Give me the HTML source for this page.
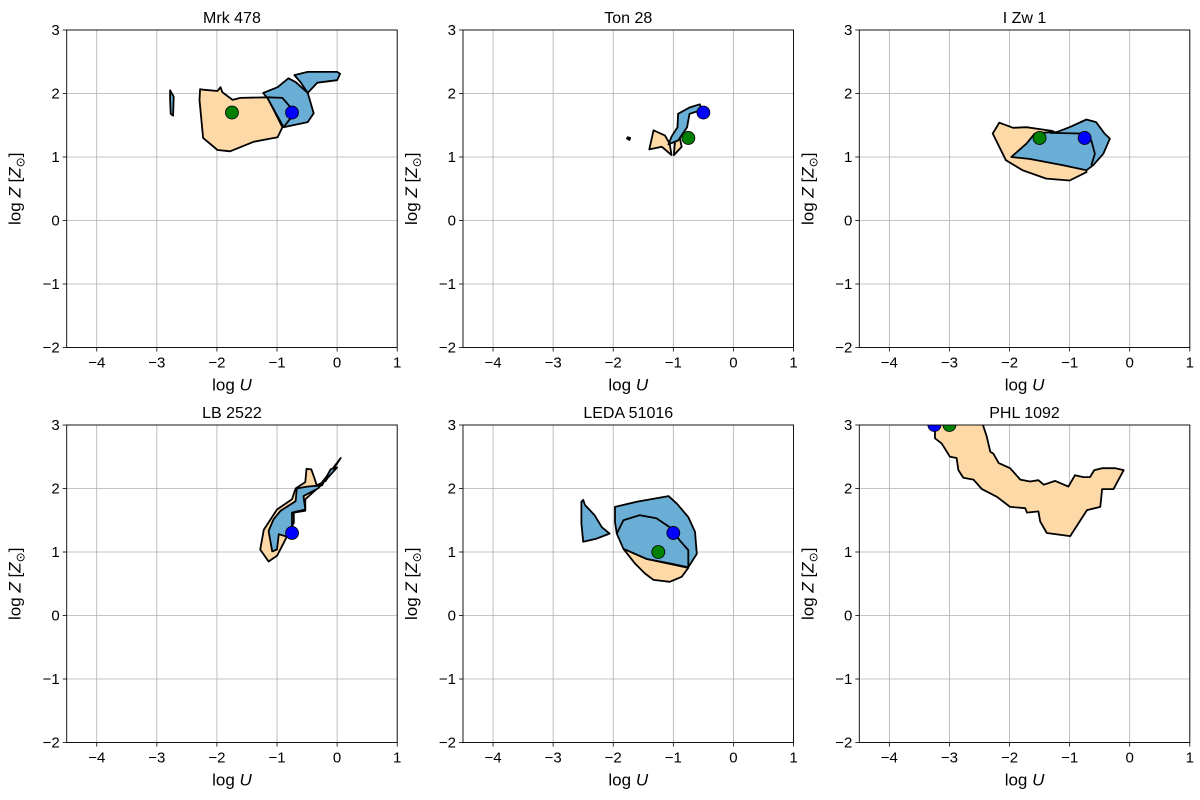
<!DOCTYPE html>
<html><head><meta charset="utf-8"><style>
body{margin:0;background:#fff;}
svg{display:block;font-family:"Liberation Sans","DejaVu Sans",sans-serif;}
</style></head><body>
<svg id="fig" width="1200" height="800" viewBox="0 0 1200 800"></svg>
<script>
const titles = ["Mrk 478","Ton 28","I Zw 1","LB 2522","LEDA 51016","PHL 1092"];
const xTicks = [-4,-3,-2,-1,0,1];
const yTicks = [-2,-1,0,1,2,3];
const tickLabels = {"-4":"−4","-3":"−3","-2":"−2","-1":"−1","0":"0","1":"1","2":"2","3":"3"};
const greenPts = [[-1.75,1.7],[-0.75,1.3],[-1.5,1.3],null,[-1.25,1.0],[-3.0,3.0]];
const bluePts = [[-0.75,1.7],[-0.5,1.7],[-0.75,1.3],[-0.75,1.3],[-1.0,1.3],[-3.25,3.0]];
const orangePolys = [
 [[[-2.28,2.07],[-2.23,2.06],[-1.99,2.04],[-1.94,2.10],[-1.91,2.02],[-1.74,1.90],[-1.61,1.93],[-1.16,1.94],[-0.91,1.47],[-0.99,1.31],[-1.39,1.24],[-1.78,1.09],[-1.99,1.11],[-2.23,1.30],[-2.29,1.90]]],
 [[[-1.33,1.42],[-1.14,1.34],[-1.06,1.21],[-1.03,1.03],[-1.19,1.16],[-1.40,1.12]],[[-0.97,1.26],[-0.89,1.29],[-0.86,1.16],[-0.99,1.03]]],
 [[[-2.28,1.37],[-2.17,1.54],[-1.94,1.46],[-1.72,1.47],[-1.28,1.41],[-0.72,0.89],[-0.72,0.76],[-1.0,0.63],[-1.39,0.66],[-1.78,0.79],[-2.06,0.95]]],
 [[[0.06,2.48],[-0.19,2.12],[-0.34,2.05],[-0.38,2.17],[-0.43,2.30],[-0.51,2.31],[-0.53,2.10],[-0.69,2.0],[-0.75,1.83],[-1.0,1.67],[-1.22,1.35],[-1.28,1.04],[-1.14,0.85],[-1.0,0.94],[-0.89,1.14],[-0.72,1.46],[-0.72,1.62],[-0.53,1.65],[-0.53,1.83],[-0.33,2.0]]],
 [[[-1.83,1.05],[-1.44,0.89],[-0.75,0.75],[-0.86,0.61],[-1.06,0.53],[-1.33,0.56],[-1.47,0.66],[-1.64,0.82]]],
 [[[-3.27,3.05],[-2.46,3.05],[-2.38,2.82],[-2.32,2.58],[-2.27,2.55],[-2.18,2.40],[-1.99,2.32],[-1.82,2.14],[-1.66,2.11],[-1.52,2.13],[-1.43,2.06],[-1.24,2.12],[-1.02,2.03],[-0.91,2.21],[-0.77,2.18],[-0.66,2.18],[-0.59,2.29],[-0.46,2.32],[-0.24,2.32],[-0.10,2.29],[-0.27,1.99],[-0.46,1.99],[-0.49,1.71],[-0.71,1.66],[-0.99,1.25],[-1.38,1.30],[-1.49,1.48],[-1.52,1.64],[-1.71,1.62],[-1.74,1.69],[-1.99,1.71],[-2.21,1.87],[-2.46,1.99],[-2.60,2.14],[-2.77,2.17],[-2.85,2.29],[-2.88,2.48],[-2.99,2.50],[-3.13,2.71],[-3.24,2.79],[-3.24,2.90]]]
];
const bluePolys = [
 [[[-1.23,2.01],[-0.99,2.10],[-0.81,2.24],[-0.69,2.18],[-0.49,2.01],[-0.39,1.69],[-0.49,1.55],[-0.89,1.47],[-1.16,1.93],[-1.19,1.96]],
  [[-0.71,2.29],[-0.49,2.34],[0.00,2.34],[0.05,2.31],[0.00,2.21],[-0.33,2.17],[-0.49,2.01],[-0.61,2.18]],
  [[-2.78,2.05],[-2.72,1.95],[-2.73,1.65],[-2.77,1.68],[-2.78,1.9]]],
 [[[-0.92,1.68],[-0.73,1.78],[-0.56,1.83],[-0.53,1.74],[-0.73,1.68],[-0.77,1.47],[-0.92,1.26],[-1.08,1.20],[-1.03,1.32],[-0.93,1.47]],
  [[-1.76,1.31],[-1.72,1.30],[-1.73,1.27],[-1.77,1.29]]],
 [[[-1.22,1.39],[-1.0,1.47],[-0.72,1.59],[-0.56,1.55],[-0.42,1.37],[-0.33,1.29],[-0.44,1.05],[-0.61,0.87],[-0.72,0.79],[-1.11,0.87],[-1.67,0.97],[-1.97,1.0],[-1.72,1.21],[-1.58,1.37],[-1.33,1.39]]],
 [[[0.0,2.33],[-0.11,2.30],[-0.25,2.05],[-0.5,2.03],[-0.67,2.0],[-0.69,1.80],[-0.94,1.65],[-1.06,1.51],[-1.14,1.33],[-1.08,1.01],[-1.0,1.04],[-0.97,1.28],[-0.83,1.24],[-0.75,1.41],[-0.75,1.62],[-0.53,1.67],[-0.56,1.88],[-0.32,2.0]]],
 [[[-2.53,1.79],[-2.5,1.82],[-2.47,1.74],[-2.31,1.58],[-2.19,1.39],[-2.06,1.29],[-2.28,1.21],[-2.5,1.16],[-2.53,1.45]],
  [[-1.97,1.71],[-1.61,1.79],[-1.08,1.88],[-0.94,1.76],[-0.75,1.55],[-0.64,1.32],[-0.61,0.97],[-0.75,0.76],[-1.06,0.82],[-1.44,0.89],[-1.83,1.05],[-1.94,1.29],[-1.97,1.47]]],
 []
];
const innerLines = [
 [[[-1.16,1.94],[-0.91,1.93],[-0.70,1.70],[-0.89,1.47]]],
 [],
 [[[-1.33,1.38],[-0.83,1.37],[-0.64,1.26],[-0.58,1.05],[-0.64,0.87]]],
 [],
 [[[-1.94,1.29],[-1.83,1.50],[-1.56,1.58],[-1.28,1.53],[-1.06,1.39],[-0.89,1.18],[-0.75,1.03],[-0.75,0.76]]],
 []
];

const NS="http://www.w3.org/2000/svg";
const fig=document.getElementById('fig');
const lefts=[66.7,463,859.3], tops=[30,425], W=330.5, H=317.5;
const XMIN=-4.5,XMAX=1,YMIN=-2,YMAX=3;
function mk(tag,attrs,parent){const e=document.createElementNS(NS,tag);for(const k in attrs)e.setAttribute(k,attrs[k]);parent.appendChild(e);return e;}

for(let i=0;i<6;i++){
  const L=lefts[i%3], T=tops[Math.floor(i/3)];
  const sx=v=>L+(v-XMIN)/(XMAX-XMIN)*W;
  const sy=v=>T+(YMAX-v)/(YMAX-YMIN)*H;
  const g=mk('g',{},fig);
  
  
  const cp=mk('clipPath',{id:'cp'+i},g);
  mk('rect',{x:L,y:T,width:W,height:H},cp);
  const grid=mk('g',{stroke:'#b0b0b0','stroke-width':0.8},g);
  
  
  xTicks.forEach(t=>{mk('line',{x1:sx(t),x2:sx(t),y1:T,y2:T+H},grid);});
  yTicks.forEach(t=>{mk('line',{x1:L,x2:L+W,y1:sy(t),y2:sy(t)},grid);});
  const data=mk('g',{'clip-path':'url(#cp'+i+')'},g);
  const pts=p=>p.map(q=>sx(q[0]).toFixed(1)+','+sy(q[1]).toFixed(1)).join(' ');
  orangePolys[i].forEach(p=>{const e=mk('polygon',{points:pts(p),fill:'#fdd9a8',stroke:'#000','stroke-width':1.8,'stroke-linejoin':'round'},data);
    
    });
  bluePolys[i].forEach(p=>{const e=mk('polygon',{points:pts(p),fill:'#6aaed6',stroke:'#000','stroke-width':1.8,'stroke-linejoin':'round'},data);
    
    });
  innerLines[i].forEach(p=>{const e=mk('polyline',{points:pts(p),fill:'none',stroke:'#000','stroke-width':1.8},data);
    
    });
  if(greenPts[i]){const e=mk('circle',{cx:sx(greenPts[i][0]),cy:sy(greenPts[i][1]),r:6.5,fill:'#008000',stroke:'#000','stroke-width':0.8},data);
    
    }
  if(bluePts[i]){const e=mk('circle',{cx:sx(bluePts[i][0]),cy:sy(bluePts[i][1]),r:6.5,fill:'#0000ff',stroke:'#000','stroke-width':0.8},data);
    
    }
  const fr=mk('rect',{x:L,y:T,width:W,height:H,fill:'none',stroke:'#000','stroke-width':0.9},g);
  
  
  xTicks.forEach(t=>{mk('line',{x1:sx(t),x2:sx(t),y1:T+H,y2:T+H+4,stroke:'#000','stroke-width':0.8},g);
    const tx=mk('text',{x:sx(t),y:T+H+20,'text-anchor':'middle','font-size':15},g);tx.textContent=tickLabels[t];
    
    });
  yTicks.forEach(t=>{mk('line',{x1:L-4,x2:L,y1:sy(t),y2:sy(t),stroke:'#000','stroke-width':0.8},g);
    const tx=mk('text',{x:L-7,y:sy(t)+5,'text-anchor':'end','font-size':15},g);tx.textContent=tickLabels[t];
    
    });
  const ti=mk('text',{x:L+W/2,y:T-7,'text-anchor':'middle','font-size':16},g);ti.textContent=titles[i];
  
  
  const xl=mk('text',{x:L+W/2,y:T+H+43,'text-anchor':'middle','font-size':17},g);
  xl.innerHTML='log <tspan font-style="italic">U</tspan>';
  
  
  const yx=L-46, yy=T+H/2;
  const yl=mk('text',{x:yx,y:yy,'text-anchor':'middle','font-size':17,transform:'rotate(-90 '+yx+' '+yy+')'},g);
  yl.innerHTML='log <tspan font-style="italic">Z</tspan> [<tspan font-style="italic">Z</tspan><tspan font-size="12" dy="4">⊙</tspan><tspan dy="-4">]</tspan>';
  
  
}
</script>
</body></html>
